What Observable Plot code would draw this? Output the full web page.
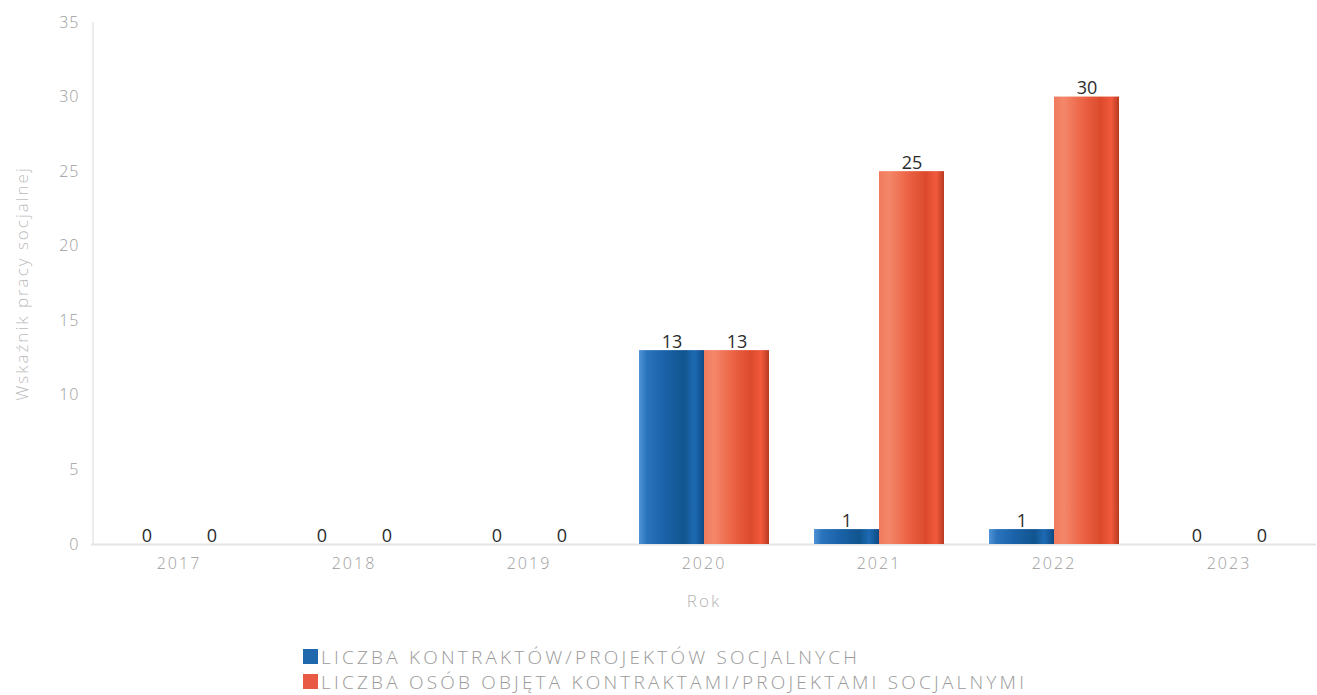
<!DOCTYPE html>
<html>
<head>
<meta charset="utf-8">
<script src="https://cdn.jsdelivr.net/npm/d3@7"></script>
<script src="https://cdn.jsdelivr.net/npm/@observablehq/plot@0.6"></script>
<style>
  body { margin: 0; background: #fff; font-family: "Open Sans", "Noto Sans", sans-serif; }
  #legend { margin-left: 303px; margin-top: 19px; }
  .li { display: flex; align-items: center; height: 25px; color: #9a9a9a; font-size: 19px; font-weight: 300; letter-spacing: 3.2px; white-space: nowrap; }
  .sw { width: 15px; height: 15px; margin-right: 3px; flex: none; }
  g[aria-label^="fx-axis"] text { font-size: 16px; letter-spacing: 2px; font-weight: 300; fill: #9c9c9c; }
  g[aria-label^="y-axis"] text { font-size: 16px; letter-spacing: 1px; font-weight: 300; fill: #9c9c9c; }
  g[aria-label="y-axis label"] text { fill: #bcbcbc; font-size: 17px; letter-spacing: 2px; }
  g[aria-label="fx-axis label"] text { fill: #b4b4b4; font-size: 17px; letter-spacing: 2px; }
</style>
</head>
<body>
<div id="chart"></div>
<div id="legend"></div>
<script>
const years = ["2017", "2018", "2019", "2020", "2021", "2022", "2023"];
const seriesNames = ["LICZBA KONTRAKTÓW/PROJEKTÓW SOCJALNYCH", "LICZBA OSÓB OBJĘTA KONTRAKTAMI/PROJEKTAMI SOCJALNYMI"];
const contracts = [0, 0, 0, 13, 1, 1, 0];
const persons = [0, 0, 0, 13, 25, 30, 0];
const yTicks = [0, 5, 10, 15, 20, 25, 30, 35];
const yTitle = "Wskaźnik pracy socjalnej";
const xTitle = "Rok";
const legendColors = ["#1f68ad", "#e85a44"];

const data = [];
years.forEach((yr, i) => {
  data.push({year: yr, series: seriesNames[0], value: contracts[i]});
  data.push({year: yr, series: seriesNames[1], value: persons[i]});
});

const chart = Plot.plot({
  width: 1317,
  height: 625,
  marginLeft: 90,
  marginRight: 0,
  marginTop: 22,
  marginBottom: 81,
  style: {fontFamily: "'Open Sans', 'Noto Sans', sans-serif", background: "#fff", color: "#a8a8a8", fontSize: "15px"},
  fx: {domain: years, paddingInner: 0.25, paddingOuter: 0.125, label: xTitle, labelAnchor: "center", labelOffset: 62, tickSize: 0, tickPadding: 13},
  x: {domain: seriesNames, padding: 0, axis: null},
  y: {domain: [0, 35], ticks: yTicks, label: yTitle, labelArrow: "none", labelAnchor: "center", labelOffset: 98, tickSize: 0, tickPadding: 34},
  color: {domain: seriesNames, range: ["url(#gBlue)", "url(#gRed)"]},
  marks: [
    Plot.ruleY([0], {stroke: "#e4e4e4", strokeWidth: 2, insetLeft: -22, insetRight: -22}),
    Plot.barY(data, {fx: "year", x: "series", y: "value", fill: "series"}),
    Plot.text(data, {fx: "year", x: "series", y: "value", text: d => String(d.value), lineAnchor: "bottom", dy: -3, fill: "#2b2b2b", fontSize: 18})
  ]
});

document.getElementById("chart").appendChild(chart);
const svg = d3.select(chart);

// strip any automatic arrow from axis labels
svg.selectAll("text").each(function() {
  const t = d3.select(this);
  const s = t.text();
  if (s.includes(yTitle) || s.includes(xTitle)) t.text(s.replace(/[↑→←↓]/g, "").trim());
});

const defs = svg.insert("defs", ":first-child");
const gB = defs.append("linearGradient").attr("id", "gBlue").attr("x1", 0).attr("x2", 1).attr("y1", 0).attr("y2", 0);
[[0, "#4f93d6"], [0.12, "#2a74bd"], [0.4, "#1a62a8"], [0.7, "#11558f"], [0.85, "#1e6ab3"], [1, "#0d4a85"]].forEach(([o, c]) => gB.append("stop").attr("offset", o).attr("stop-color", c));
const gR = defs.append("linearGradient").attr("id", "gRed").attr("x1", 0).attr("x2", 1).attr("y1", 0).attr("y2", 0);
[[0, "#f07a5c"], [0.15, "#f4876a"], [0.45, "#ec6244"], [0.72, "#dc4a2c"], [0.88, "#f25a3c"], [1, "#b83a22"]].forEach(([o, c]) => gR.append("stop").attr("offset", o).attr("stop-color", c));

// left axis line from the y scale
const y = chart.scale("y");
svg.append("line")
  .attr("x1", 93).attr("x2", 93)
  .attr("y1", y.apply(35)).attr("y2", y.apply(0))
  .attr("stroke", "#ececec").attr("stroke-width", 2);

// legend
const lg = d3.select("#legend");
seriesNames.forEach((s, i) => {
  const row = lg.append("div").attr("class", "li");
  row.append("div").attr("class", "sw").style("background", legendColors[i]);
  row.append("span").text(s);
});
</script>
</body>
</html>
